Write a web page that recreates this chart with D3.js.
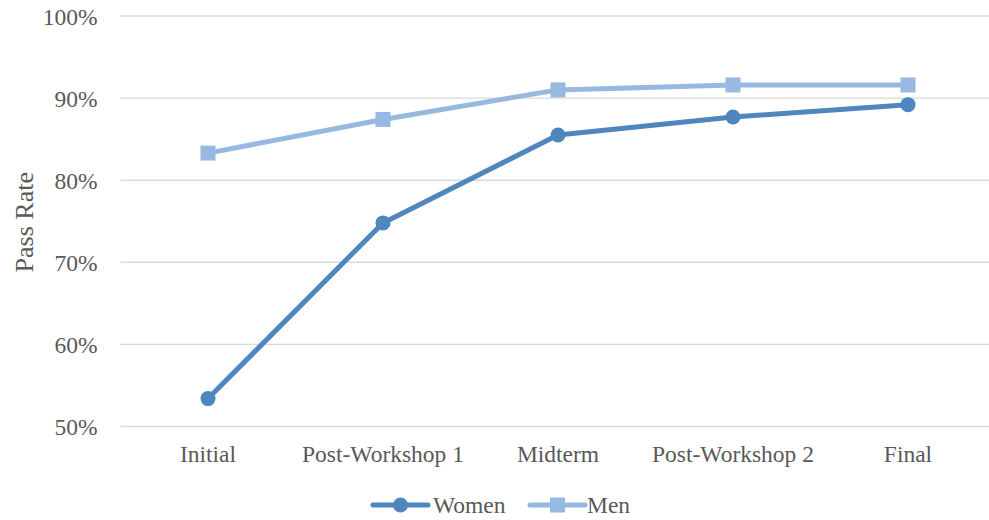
<!DOCTYPE html>
<html>
<head>
<meta charset="utf-8">
<script src="https://cdn.jsdelivr.net/npm/d3@7"></script>
<style>
  html, body { margin: 0; padding: 0; background: #fff; }
  svg { display: block; }
  text { font-family: "Liberation Serif", "Times New Roman", serif; fill: #595959; }
</style>
</head>
<body>
<svg id="chart" width="989" height="520"></svg>
<script>
const categories = ["Initial", "Post-Workshop 1", "Midterm", "Post-Workshop 2", "Final"];
const women = [0.534, 0.748, 0.855, 0.877, 0.892];
const men = [0.833, 0.874, 0.910, 0.916, 0.916];
const yTicks = [0.5, 0.6, 0.7, 0.8, 0.9, 1.0];
const seriesNames = ["Women", "Men"];
const yTitle = "Pass Rate";

const colors = { Women: "#4f86be", Men: "#97b9e1" };
const FS = "23.5px";

const svg = d3.select("#chart");
const pLeft = 120.5, pRight = 995.5, pTop = 16, pBottom = 426.5;

const x = d3.scaleBand().domain(categories).range([pLeft, pRight]).padding(0);
const y = d3.scaleLinear().domain([0.5, 1.0]).range([pBottom, pTop]);
const cx = d => x(d) + x.bandwidth() / 2;

// gridlines
svg.append("g").selectAll("line").data(yTicks).join("line")
  .attr("x1", pLeft).attr("x2", pRight)
  .attr("y1", d => y(d)).attr("y2", d => y(d))
  .attr("stroke", "#d9d9d9").attr("stroke-width", 1.4);

// y axis labels
const yAxis = d3.axisLeft(y).tickValues(yTicks).tickFormat(d3.format(".0%")).tickSize(0).tickPadding(0);
const yg = svg.append("g").attr("transform", `translate(${pLeft - 23},0)`).call(yAxis)
  .attr("font-family", null).attr("font-size", null);
yg.select(".domain").remove();
yg.selectAll("text").style("font-family", "Liberation Serif").style("font-size", FS)
  .attr("fill", "#595959").attr("y", 8).attr("dy", 0);

// x axis labels
const xAxis = d3.axisBottom(x).tickSize(0).tickPadding(0);
const xg = svg.append("g").attr("transform", `translate(0,462)`).call(xAxis)
  .attr("font-family", null).attr("font-size", null);
xg.select(".domain").remove();
xg.selectAll("text").style("font-family", "Liberation Serif").style("font-size", FS)
  .attr("fill", "#595959").attr("y", 0).attr("dy", 0);

// y title
svg.append("text")
  .attr("transform", `translate(33,${(pTop + pBottom) / 2 + 1}) rotate(-90)`)
  .attr("text-anchor", "middle")
  .style("font-size", "26px")
  .text(yTitle);

const line = d3.line().x((d, i) => cx(categories[i])).y(d => y(d));

const data = { Women: women, Men: men };

// Men first (behind), then Women
["Men", "Women"].forEach(name => {
  const vals = data[name];
  svg.append("path").datum(vals)
    .attr("d", line)
    .attr("fill", "none")
    .attr("stroke", colors[name])
    .attr("stroke-width", 5)
    .attr("stroke-linejoin", "round");
  const g = svg.append("g");
  if (name === "Women") {
    g.selectAll("circle").data(vals).join("circle")
      .attr("cx", (d, i) => cx(categories[i])).attr("cy", d => y(d))
      .attr("r", 7.5).attr("fill", colors[name]);
  } else {
    g.selectAll("rect").data(vals).join("rect")
      .attr("x", (d, i) => cx(categories[i]) - 7.5).attr("y", d => y(d) - 7.5)
      .attr("width", 15).attr("height", 15).attr("fill", colors[name]);
  }
});

// legend
const legendY = 505;
const legend = [
  { name: "Women", x0: 373, tx: 433 },
  { name: "Men", x0: 530, tx: 587 }
];
legend.forEach(l => {
  const g = svg.append("g");
  g.append("line").attr("x1", l.x0).attr("x2", l.x0 + 55)
    .attr("y1", legendY).attr("y2", legendY)
    .attr("stroke", colors[l.name]).attr("stroke-width", 5).attr("stroke-linecap", "round");
  if (l.name === "Women") {
    g.append("circle").attr("cx", l.x0 + 27.5).attr("cy", legendY).attr("r", 7.5).attr("fill", colors[l.name]);
  } else {
    g.append("rect").attr("x", l.x0 + 20).attr("y", legendY - 7.5).attr("width", 15).attr("height", 15).attr("fill", colors[l.name]);
  }
  g.append("text").attr("x", l.tx).attr("y", legendY + 8)
    .style("font-size", FS).text(l.name);
});
</script>
</body>
</html>
